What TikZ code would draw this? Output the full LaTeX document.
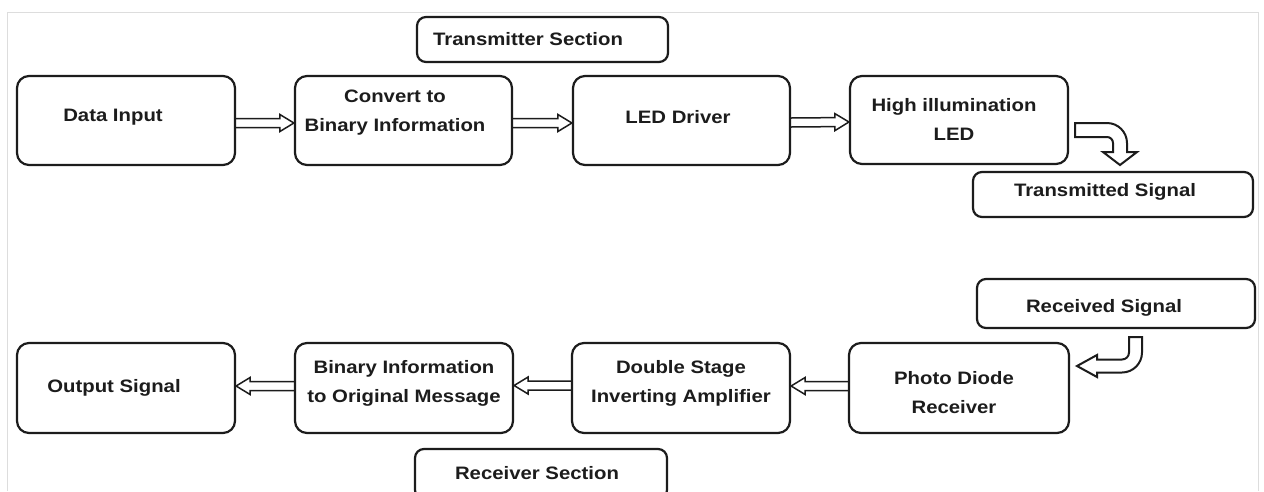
\documentclass[tikz,border=0pt]{standalone}
\usepackage{fontspec}
\newfontfamily\labfont{Liberation Sans}[FakeStretch=1.13]
\usetikzlibrary{calc}
\definecolor{ink}{HTML}{1C1C1C}
\definecolor{framegray}{HTML}{DDDDDD}

% hollow block arrow from anchor #1 to anchor #2 (tip), shifted vertically by #3
\newcommand\hollowarrow[3]{%
  \draw[hollow]
    ($(#1)+(0,#3-4.5)$) -- ($(#2)!14pt!(#1)+(0,#3-4.5)$)
    -- ($(#2)!14pt!(#1)+(0,#3-8.5)$) -- ($(#2)+(0,#3)$)
    -- ($(#2)!14pt!(#1)+(0,#3+8.5)$) -- ($(#2)!14pt!(#1)+(0,#3+4.5)$)
    -- ($(#1)+(0,#3+4.5)$);}

\begin{document}
\begin{tikzpicture}[x=1pt,y=-1pt,
  box/.style={draw=ink, line width=2.2pt, rounded corners=12pt,
    minimum width=218pt, minimum height=89pt, inner sep=0pt},
  tagbox/.style={draw=ink, line width=2.2pt, rounded corners=9pt, inner sep=0pt},
  txt/.style={font=\labfont\bfseries\fontsize{18}{29}\selectfont,
    text=ink, align=center, inner sep=0pt},
  hollow/.style={draw=ink, line width=1.5pt, line join=miter},
  bent/.style={draw=ink, line width=2pt, fill=white, line join=miter}]

\clip (0,0) rectangle (1264,491);
\fill[white] (0,0) rectangle (1264,491);

% faint outer frame
\draw[framegray, line width=1pt] (7,491) -- (7,12) -- (1258,12) -- (1258,491);

% transmitter chain
\node[box, label={[txt,xshift=-13pt,yshift=3.5pt]center:Data Input}] (din) at (126,120.5) {};
\node[box, minimum width=217pt,
  label={[txt,xshift=-8.5pt,yshift=8pt]center:Convert to\\Binary Information}] (cv) at (403.5,120.5) {};
\node[box, minimum width=217pt,
  label={[txt,xshift=-3.5pt,yshift=3.5pt]center:LED Driver}] (led) at (681.5,120.5) {};
\node[box, minimum height=88pt,
  label={[txt,xshift=-5pt,yshift=1pt]center:High illumination\\LED}] (hil) at (959,120) {};

\node[tagbox, minimum width=251pt, minimum height=45pt,
  label={[txt,xshift=-14.5pt]center:Transmitter Section}] (txsec) at (542.5,39.5) {};
\node[tagbox, minimum width=280pt, minimum height=45pt,
  label={[txt,xshift=-8pt,yshift=2.5pt]center:Transmitted Signal}] (tsig) at (1113,194.5) {};

% receiver chain
\node[tagbox, minimum width=278pt, minimum height=49pt,
  label={[txt,xshift=-12pt,yshift=-4.5pt]center:Received Signal}] (rsig) at (1116,303.5) {};

\node[box, minimum height=90pt,
  label={[txt,xshift=-12pt]center:Output Signal}] (out) at (126,388) {};
\node[box, minimum height=90pt,
  label={[txt,yshift=4.5pt]center:Binary Information\\to Original Message}] (bin) at (404,388) {};
\node[box, minimum height=90pt,
  label={[txt,yshift=4.5pt]center:Double Stage\\Inverting Amplifier}] (dbl) at (681,388) {};
\node[box, minimum width=220pt, minimum height=90pt,
  label={[txt,xshift=-5pt,yshift=-5pt]center:Photo Diode\\Receiver}] (pd) at (959,388) {};

\node[tagbox, minimum width=252pt, minimum height=50pt,
  label={[txt,xshift=-4pt,yshift=1pt]center:Receiver Section}] (rxsec) at (541,474) {};

% flow arrows
\hollowarrow{din.east}{cv.west}{2.5}
\hollowarrow{cv.east}{led.west}{2.5}
\hollowarrow{led.east}{hil.west}{2}
\hollowarrow{pd.west}{dbl.east}{-2}
\hollowarrow{dbl.west}{bin.east}{-2.5}
\hollowarrow{bin.west}{out.east}{-2}

% bent arrow: LED output towards the transmitted signal
\draw[bent] (1075,123) -- (1107,123) .. controls (1118,123) and (1127,132) .. (1127,143)
  -- (1127,152) -- (1137,152) -- (1120,165) -- (1103,152) -- (1113,152) -- (1113,143)
  .. controls (1113,139.7) and (1110.3,137) .. (1107,137) -- (1075,137) -- cycle;

% bent arrow: received signal into the photo diode
\draw[bent] (1129,337) -- (1142,337) -- (1142,352.5)
  .. controls (1142,363.5) and (1133,372.5) .. (1122,372.5)
  -- (1097,372.5) -- (1097,377) -- (1077,366) -- (1097,355) -- (1097,359.5) -- (1122,359.5)
  .. controls (1125.9,359.5) and (1129,356.4) .. (1129,352.5) -- cycle;

\end{tikzpicture}
\end{document}
